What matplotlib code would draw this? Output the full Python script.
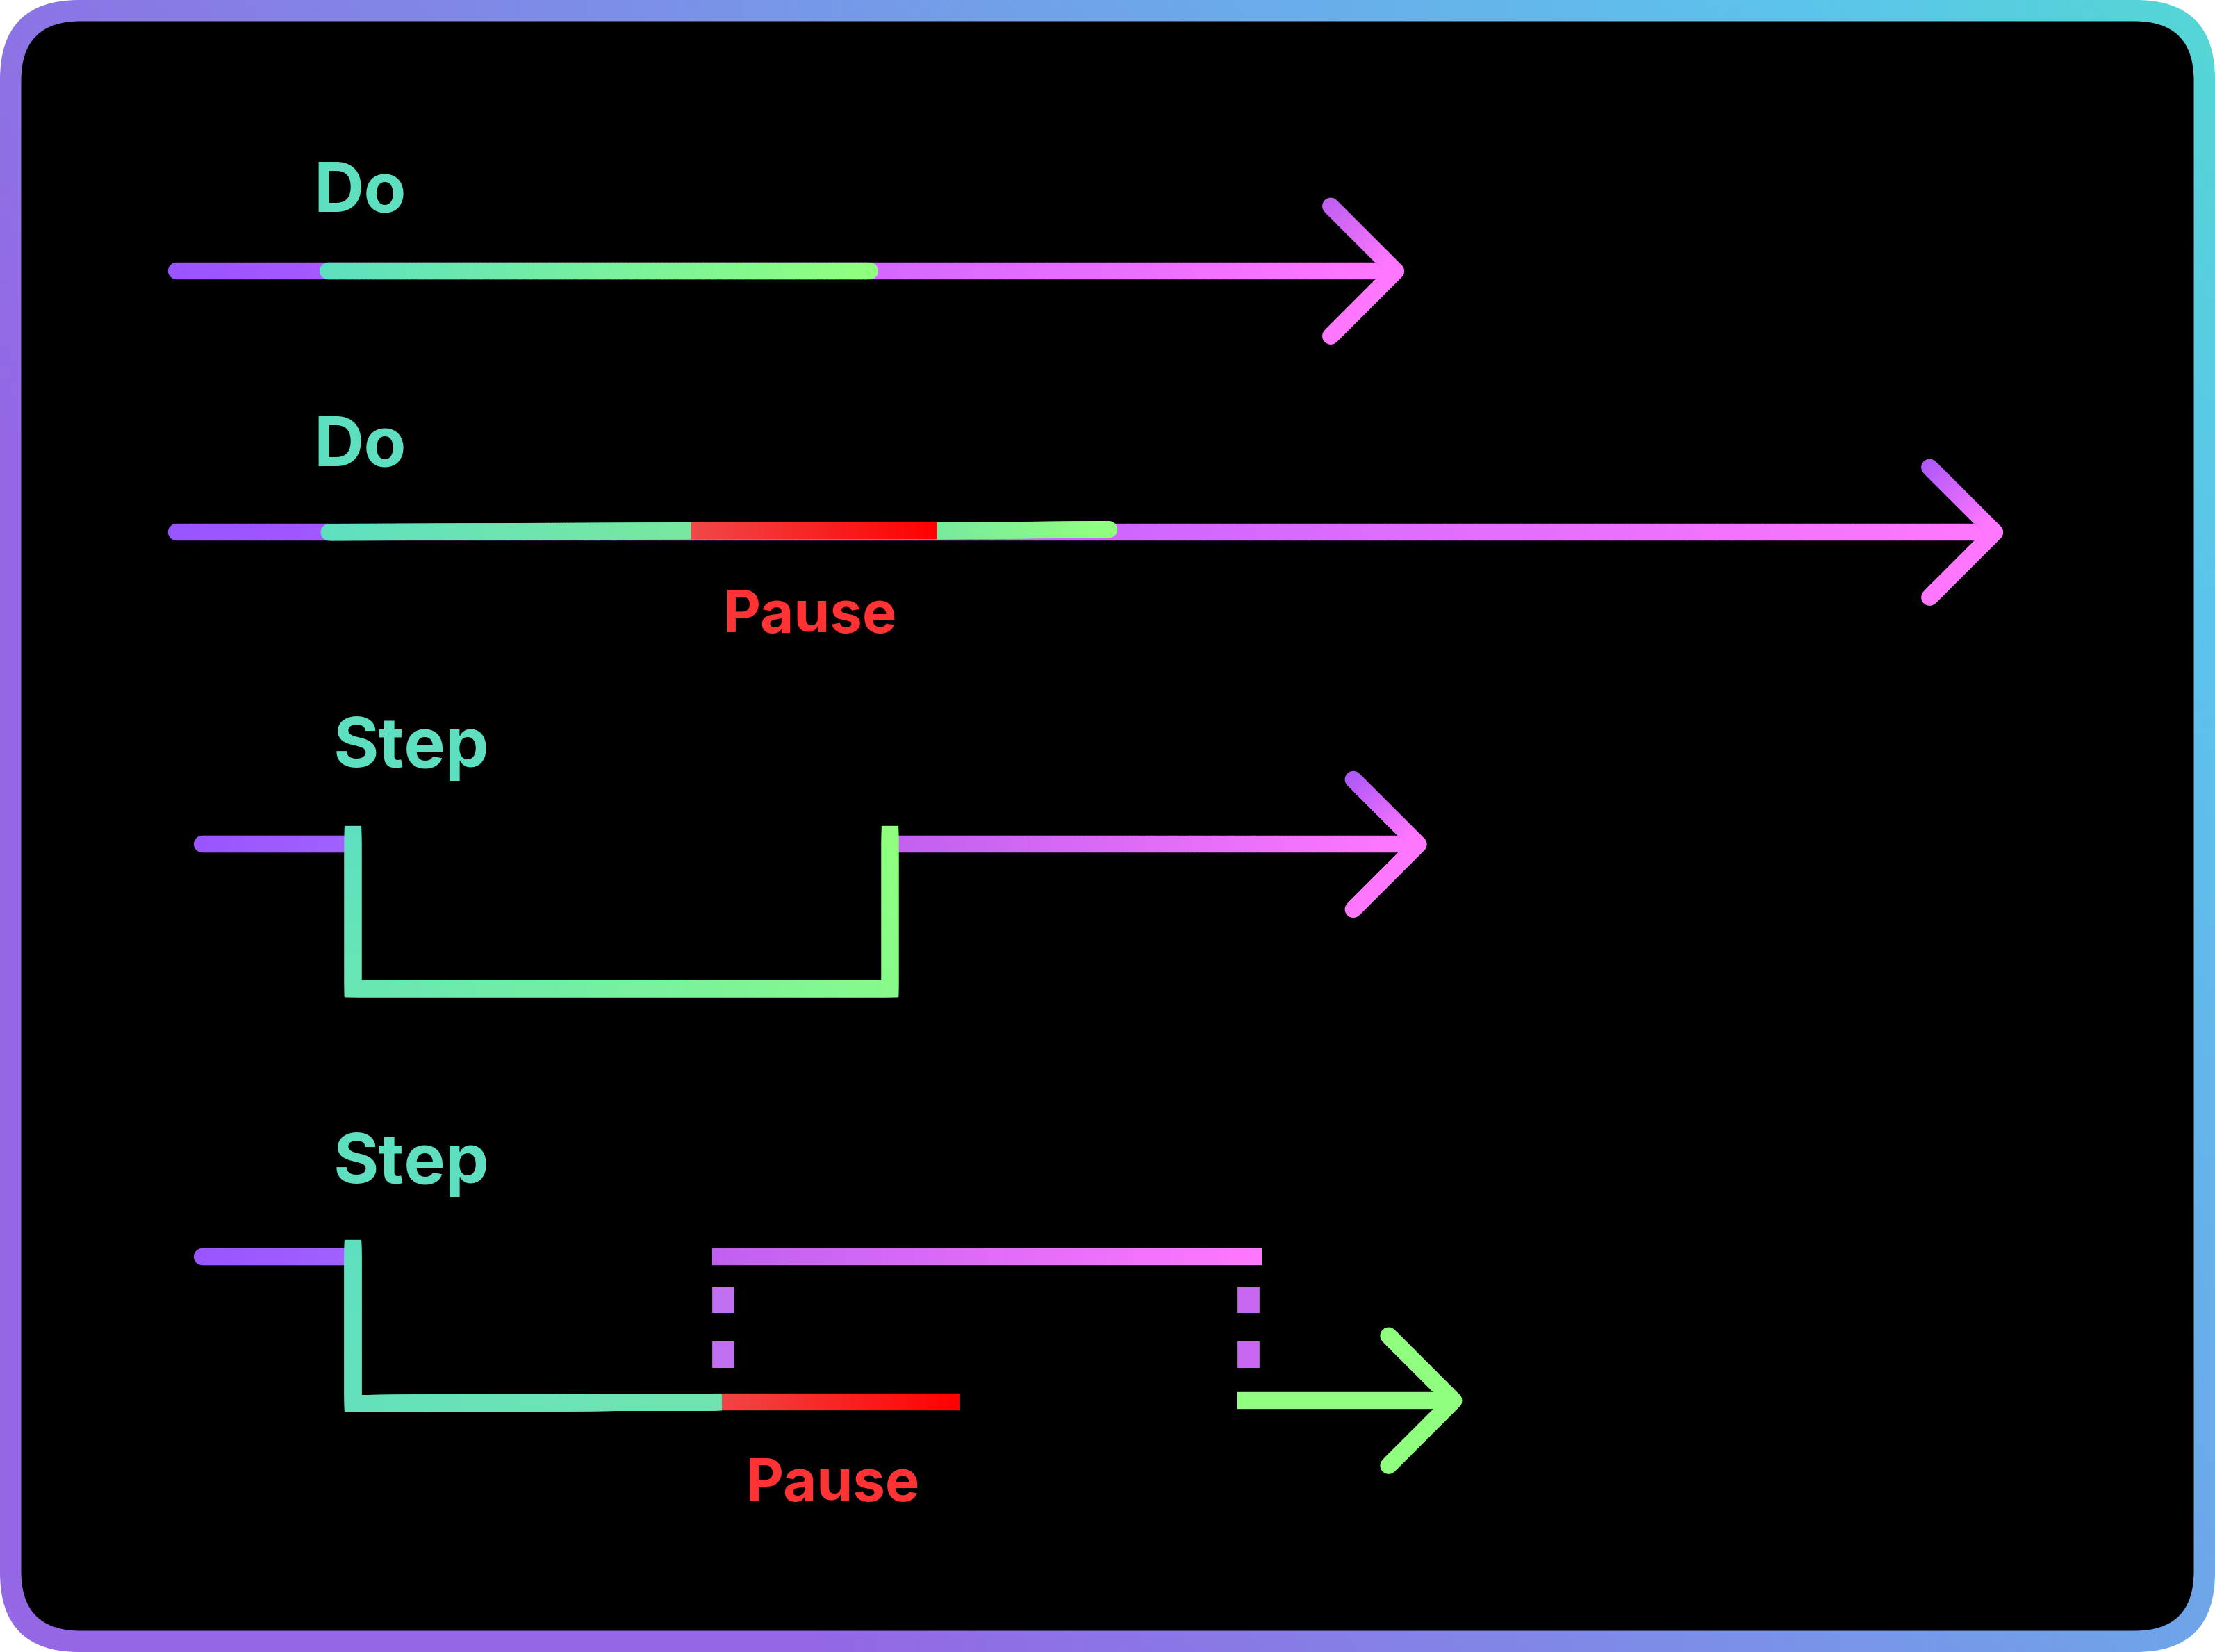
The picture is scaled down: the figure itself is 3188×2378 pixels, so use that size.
import numpy as np
import matplotlib.pyplot as plt
from matplotlib.collections import LineCollection
from matplotlib.patches import FancyBboxPatch
from matplotlib.colors import to_rgb

W, H = 1568, 1170          # layout units (reference shown at ~1/2.033 scale)
S = 3188 / W
PURPLE, PINK = "#9955ff", "#ff77ff"
TEAL, LIME = "#5ee0c0", "#90ff80"
RED1, RED2 = "#f04848", "#ff0000"

# rows: (label, label_xy), main lines, chevrons
labels = [("Do", 222, 137, TEAL), ("Do", 222, 317, TEAL), ("Step", 236, 530, TEAL),
          ("Step", 236, 825, TEAL), ("Pause", 512, 437, "#ff3333"), ("Pause", 528, 1052, "#ff3333")]
grad_lines = [  # x0, y0, x1, y1, c0, c1, cap
    (125, 192, 985, 192, PURPLE, PINK, "round"),
    (232, 192, 616, 192, TEAL, LIME, "round"),
    (125, 377, 1408, 377, PURPLE, PINK, "round"),
    (233, 377, 489, 376, TEAL, "#78e8a0", "round"),
    (663, 376, 785, 375, "#78e8a0", LIME, "round"),
    (489, 376, 663, 376, RED1, RED2, "butt"),
    (143, 598, 250, 598, PURPLE, "#a060ff", "round"),
    (630, 598, 1000, 598, "#c060f0", PINK, "round"),
    (143, 890, 250, 890, PURPLE, "#a060ff", "round"),
    (504, 890, 893, 890, "#c060f0", PINK, "butt"),
    (505, 993, 679, 993, RED1, RED2, "butt"),
    (876, 992, 1026, 992, LIME, LIME, "butt"),
]
steps = [  # polyline points, colours
    ([(250, 591), (250, 700), (630, 700), (630, 591)], TEAL, LIME),
    ([(250, 884), (250, 994), (505, 993)], TEAL, "#70e4b0"),
]
dashes = [(512, 911, 930, "#c070f0"), (512, 950, 969, "#c070f0"),
          (884, 911, 930, "#c868f0"), (884, 950, 969, "#c868f0")]
chevrons = [  # tip x, tip y, half-size, colour top, colour bottom
    (988, 192, 46, "#c060f0", PINK), (1412, 377, 46, "#b058f8", PINK),
    (1004, 598, 46, "#b058f8", PINK), (1029, 992, 46, LIME, LIME)]

LW = 12 * S * 72 / 100  # line width in points


def grad(ax, x0, y0, x1, y1, c0, c1, cap="butt", n=120):
    xs, ys = np.linspace(x0, x1, n + 1), np.linspace(y0, y1, n + 1)
    segs = [[(xs[i], ys[i]), (xs[i + 1], ys[i + 1])] for i in range(n)]
    a, b = np.array(to_rgb(c0)), np.array(to_rgb(c1))
    cols = [a + (b - a) * t for t in np.linspace(0, 1, n)]
    ax.add_collection(LineCollection(segs, colors=cols, linewidths=LW, capstyle=cap))


fig = plt.figure(figsize=(31.88, 23.78), dpi=100)
fig.patch.set_facecolor("white")
ax = fig.add_axes([0, 0, 1, 1])
ax.set_xlim(0, W)
ax.set_ylim(H, 0)
ax.axis("off")

# gradient border
gx, gy = np.meshgrid(np.linspace(0, 1, 200), np.linspace(0, 1, 200))
t = np.clip(gx * 0.8 - gy * 0.4 + 0.1, 0, 1)
c0, c1, c2 = np.array(to_rgb("#9468e4")), np.array(to_rgb("#5cc4ec")), np.array(to_rgb("#50e4c4"))
img = np.where((t < 0.75)[..., None], c0 + (c1 - c0) * (t / 0.75)[..., None],
               c1 + (c2 - c1) * ((t - 0.75) / 0.25)[..., None])
outer = FancyBboxPatch((0, 0), W, H, boxstyle="round,pad=0,rounding_size=56",
                       transform=ax.transData, facecolor="none", edgecolor="none")
ax.add_patch(outer)
im = ax.imshow(img, extent=(0, W, H, 0), aspect="auto", zorder=0)
im.set_clip_path(outer)
ax.add_patch(FancyBboxPatch((15, 15), W - 30, H - 30, boxstyle="round,pad=0,rounding_size=42",
                            facecolor="black", edgecolor="none", zorder=1))

for pts, ca, cb in steps:
    xs = np.array([p[0] for p in pts], float)
    ys = np.array([p[1] for p in pts], float)
    d = np.concatenate([[0], np.cumsum(np.hypot(np.diff(xs), np.diff(ys)))])
    dd = np.linspace(0, d[-1], 300)
    px, py = np.interp(dd, d, xs), np.interp(dd, d, ys)
    px = np.concatenate([px, xs[1:-1]]); py = np.concatenate([py, ys[1:-1]])
    order = np.argsort(np.concatenate([dd, d[1:-1]]), kind="stable")
    px, py = px[order], py[order]
    segs = [[(px[i], py[i]), (px[i + 1], py[i + 1])] for i in range(len(px) - 1)]
    a, b = np.array(to_rgb(ca)), np.array(to_rgb(cb))
    cols = [a + (b - a) * s for s in np.linspace(0, 1, len(segs))]
    ax.add_collection(LineCollection(segs, colors=cols, linewidths=LW, capstyle="projecting",
                                     joinstyle="miter", zorder=3))
    ax.plot(xs, ys, color="none")

for x0, y0, x1, y1, c0_, c1_, cap in grad_lines:
    grad(ax, x0, y0, x1, y1, c0_, c1_, cap)

for x, y0, y1, c in dashes:
    ax.plot([x, x], [y0, y1], color=c, lw=LW * 1.3, solid_capstyle="butt", zorder=4)

for tx, ty, s, ct, cb in chevrons:
    grad(ax, tx - s, ty - s, tx, ty, ct, cb, "round", n=20)
    grad(ax, tx, ty, tx - s, ty + s, cb, cb, "round", n=20)

for txt, x, y, c in labels:
    fs = 72 if txt != "Pause" else 60
    ax.text(x, y, txt, color=c, fontsize=fs, fontweight="bold", ha="left", va="center",
            family=["Inter", "DejaVu Sans"], zorder=5)

fig.savefig("out.png", dpi=100)
